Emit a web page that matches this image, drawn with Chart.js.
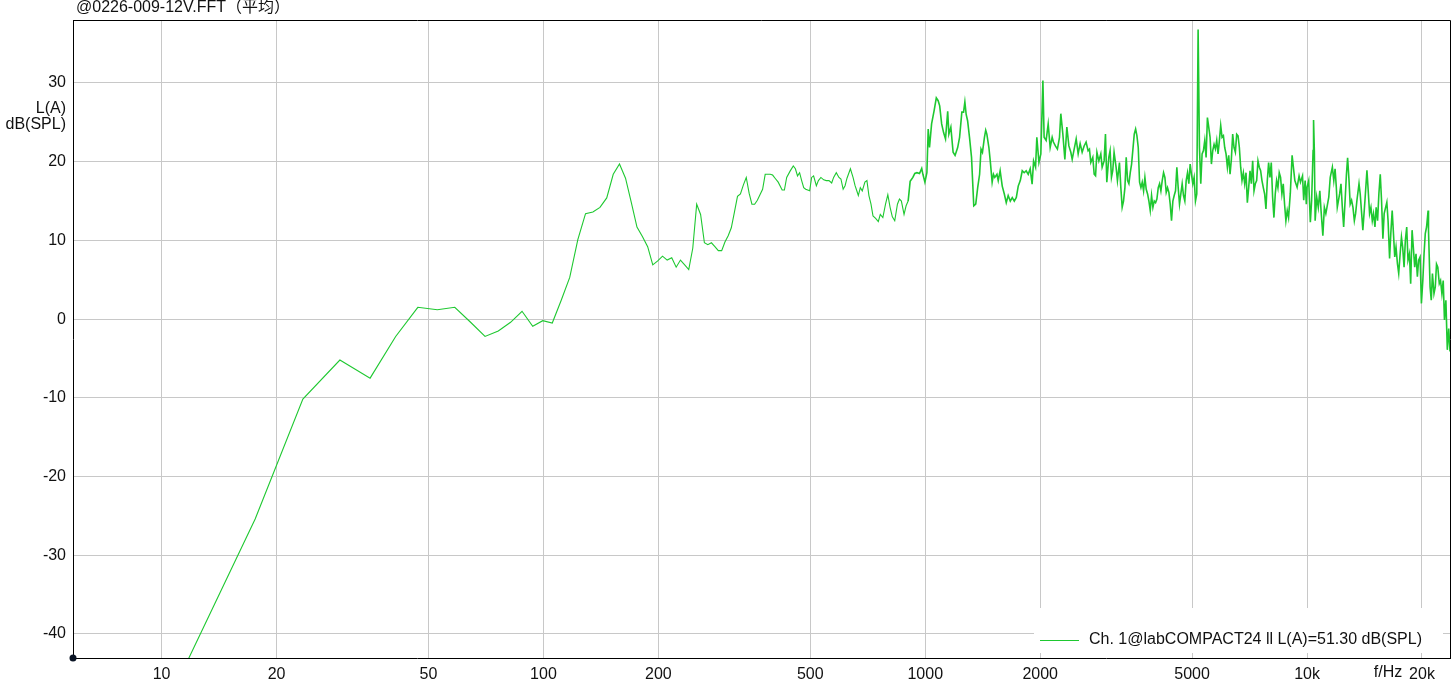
<!DOCTYPE html>
<html>
<head>
<meta charset="utf-8">
<script src="https://cdn.jsdelivr.net/npm/chart.js@4.4.1/dist/chart.umd.min.js"></script>
<style>
html,body{margin:0;padding:0;background:#fff;}
#wrap{width:1452px;height:692px;position:relative;}
</style>
</head>
<body>
<div id="wrap"><canvas id="c" width="1452" height="692"></canvas></div>
<script>
const titleText = "@0226-009-12V.FFT（平均）";
const legendText = "Ch. 1@labCOMPACT24 ll L(A)=51.30 dB(SPL)";
const yUnitLines = ["L(A)", "dB(SPL)"];
const xAxisName = "f/Hz";
const xTicks = [10, 20, 50, 100, 200, 500, 1000, 2000, 5000, 10000, 20000];
const xTickLabels = ["10", "20", "50", "100", "200", "500", "1000", "2000", "5000", "10k", "20k"];
const yTicks = [-40, -30, -20, -10, 0, 10, 20, 30];
const xMin = 5.86, xMax = 23680, yMin = -43.05, yMax = 38.0;

const freqs = [
5.86,11.72,17.58,23.44,29.30,35.16,41.02,46.88,52.73,58.59,64.45,70.31,76.17,82.03,87.89,93.75,99.61,105.47,111.33,117.19,
123.05,128.9,134.77,140.63,146.48,152.34,158.2,164.06,169.92,175.78,181.64,187.5,193.36,199.2,205.08,210.9,216.8,222.66,228.5,234.4,
240.2,246.1,252,258,264,269.5,275.4,281.25,287.1,293,298.8,304.7,310.5,316.4,322.3,328.1,334,339.8,345.7,351.6,
357.4,363.3,369.1,375,380.9,386.7,392.6,398.4,404.3,412,421.9,427.7,433.6,442.6,451.2,457,462.9,468.75,474.6,480.5,
486.3,492.2,498,504,510,518.6,525,533,542,550.6,559.6,568.8,575.5,584.8,594.3,601.4,609.5,616.6,623.8,636.8,
647,655,659.8,668,676,684,695,703.5,712,721,729.8,741.4,753.5,762.6,774.4,787,798,809,820,832,
845.6,856,866,880,891,902,913,928,939,951,966,979,986,998,1010,1018,1026,1039,1055,1069,
1081,1091,1104,1117,1130,1145,1153,1167,1183,1197,1216,1230,1247,1260,1270,1280,1291,1306,1322,1340,
1356,1372,1388,1400,1412,1429,1440,1450,1468,1480,1497,1509,1521,1541,1553,1571,1591,1611,1630,1649,
1670,1690,1711,1732,1752,1774,1795,1816,1838,1861,1883,1905,1922,1945,1960,1985,2008,2033,2048,2073,
2099,2124,2150,2166,2192,2219,2247,2265,2293,2321,2349,2378,2406,2426,2455,2485,2515,2545,2576,2607,
2638,2670,2692,2714,2747,2770,2793,2816,2849,2883,2906,2941,2965,2989,3025,3049,3074,3098,3123,3161,
3187,3226,3253,3279,3306,3334,3360,3388,3415,3443,3471,3499,3527,3556,3584,3613,3642,3672,3701,3731,
3761,3791,3822,3853,3884,3915,3947,3979,4011,4043,4076,4109,4142,4175,4209,4243,4277,4311,4346,4381,
4416,4452,4488,4524,4560,4597,4634,4671,4709,4747,4785,4824,4863,4902,4941,4981,5021,5061,5102,5143,
5184,5226,5268,5310,5353,5396,5440,5483,5527,5572,5617,5662,5708,5754,5800,5847,5894,5941,5989,6038,
6086,6135,6185,6234,6285,6335,6386,6438,6490,6542,6595,6648,6701,6755,6810,6865,6920,6976,7032,7089,
7146,7204,7262,7320,7379,7438,7498,7558,7619,7681,7743,7805,7868,7931,7995,8059,8124,8189,8255,8322,
8389,8456,8524,8593,8662,8732,8802,8873,8944,9040,9138,9290,9418,9530,9610,9730,9800,9885,9955,10000,
10100,10200,10280,10370,10400,10450,10500,10600,10700,10800,10880,11000,11100,11200,11400,11500,11650,11750,11840,11930,
12000,12170,12270,12370,12470,12580,12680,12770,12880,12970,13080,13190,13300,13400,13510,13680,13780,13900,14000,14180,
14350,14460,14580,14700,14820,14930,15060,15170,15300,15420,15550,15670,15800,15920,16060,16180,16300,16450,16570,16710,
16840,16970,17100,17250,17380,17530,17670,17800,17950,18090,18240,18380,18540,18680,18840,18980,19140,19290,19450,19600,
19770,19930,20100,20250,20400,20560,20750,20800,21000,21150,21300,21500,21670,21830,22000,22200,22370,22550,22730,22900,
23100,23300,23500,23680
];
const levels = [
-60,-43.3,-25.4,-10.15,-5.2,-7.5,-2.2,1.5,1.2,1.5,-0.4,-2.2,-1.5,-0.4,1.0,-0.9,-0.2,-0.5,2.4,5.3,
10.1,13.4,13.6,14.2,15.4,18.4,19.7,17.9,14.8,11.7,10.5,9.2,6.9,7.4,8.0,7.5,7.8,6.6,7.5,6.9,
6.3,9.0,14.6,13.3,9.7,9.45,9.7,9.2,8.7,8.7,9.8,10.6,11.6,13.6,15.6,15.9,17.05,18.0,16.0,14.6,
14.6,15.1,15.8,16.5,18.4,18.4,18.4,18.3,17.9,17.4,16.4,16.4,18.0,18.8,19.45,19.1,18.2,18.6,17.6,16.7,
16.5,16.4,16.3,18.0,18.2,16.95,17.6,18.0,17.7,17.6,17.6,17.3,18.0,18.6,18.0,17.8,16.5,16.95,17.9,19.1,
18.0,16.95,16.5,15.7,16.7,16.3,17.4,17.6,15.7,14.6,13.1,12.8,12.4,13.3,12.9,14.6,15.8,14.2,13.0,12.5,
14.6,15.25,15.0,13.3,14.4,15.0,17.5,18.0,18.5,18.6,18.5,19.15,18.4,17.4,18.6,24.15,21.8,24.8,26.5,28.1,
27.75,27.1,24.8,23.7,22.9,26.4,23.5,24.4,21.2,20.8,21.8,23.1,26.3,26.3,27.6,26.0,25.2,23.1,20.55,14.4,
14.6,16.7,18.4,21.6,21.2,23.1,24.0,23.5,21.8,20.1,17.4,18.4,18.0,18.4,17.6,18.85,16.9,15.9,14.8,15.7,
15.0,15.45,15.0,15.45,16.9,17.6,18.85,18.6,18.85,18.4,19.1,17.15,20.1,19.3,23.1,19.9,21.0,30.3,23.1,22.7,
24.8,21.8,23.1,22.5,22.0,21.6,23.1,26.1,23.5,20.3,24.4,22.0,21.2,20.3,21.6,22.9,21.0,22.3,21.2,22.0,
22.5,21.4,21.6,19.9,20.55,18.4,18.2,21.2,20.1,21.0,19.3,20.1,23.5,17.4,20.55,21.4,18.0,18.85,21.2,19.3,
17.6,19.9,16.7,14.2,15.0,16.7,20.55,17.6,17.2,18.6,19.7,21.6,23.5,24.15,23.3,21.8,17.4,16.7,17.4,16.3,
18.0,16.5,15.9,15.0,13.8,15.7,14.2,15.0,14.8,15.25,16.7,17.2,16.3,17.6,18.6,18.0,16.1,16.7,16.1,14.6,
12.5,15.0,15.7,16.3,19.3,16.7,14.6,15.9,17.2,15.7,15.0,17.6,18.6,17.2,19.7,18.4,17.2,18.0,15.0,15.9,
36.8,21.8,17.2,21.0,21.4,22.7,20.55,25.6,24.4,23.1,19.7,21.4,22.2,21.6,22.7,21.0,22.7,24.6,23.1,23.3,
21.8,21.0,19.3,20.8,18.4,20.3,23.5,21.8,21.2,23.5,23.3,21.8,19.3,17.6,18.6,17.2,18.6,14.8,16.7,18.85,
17.2,20.1,16.3,17.2,17.6,20.1,19.3,18.85,17.6,16.7,15.9,14.0,17.6,19.9,18.0,19.9,15.5,12.9,15.9,17.6,
16.7,18.6,18.0,15.9,17.2,14.6,12.5,13.8,12.9,16.0,20.8,17.6,16.75,18.2,17.4,18.2,15.1,17.6,14.6,16.75,
17.6,12.3,15.1,21.4,25.3,21.4,12.5,15.5,14.2,16.3,13.8,10.6,14.2,13.4,15.5,18.0,19.3,17.6,19.1,16.75,
14.2,15.9,17.2,14.2,11.7,15.1,18.4,20.5,17.6,14.6,15.1,14.2,12.5,13.4,15.1,17.2,15.9,13.4,11.3,15.1,
18.9,16.3,13.4,14.2,12.5,13.4,11.7,14.2,12.5,15.9,18.4,15.1,10.2,13.4,14.2,14.85,12.5,7.7,10.85,13.8,
10.85,7.9,9.15,7.0,5.8,8.3,10.4,9.15,6.6,10.0,11.7,7.5,8.3,4.5,11.3,9.15,6.6,8.3,5.4,7.5,
7.9,2.0,4.9,8.3,10.85,11.7,13.8,11.3,4.1,2.4,5.8,3.25,4.1,7.0,6.6,4.5,4.9,3.25,4.9,-0.1,
2.4,-3.9,-1.2,-4.1
];

const FONT = "'Liberation Sans', Arial, 'Noto Sans CJK SC', sans-serif";
const LINE_COLOR = "rgb(30,200,48)";

const points = freqs.map((f, i) => ({ x: f, y: levels[i] }));

const overlay = {
  id: 'overlay',
  afterDatasetsDraw(chart) {
    const ctx = chart.ctx, a = chart.chartArea;
    ctx.save();
    ctx.strokeStyle = '#000';
    ctx.lineWidth = 1;
    ctx.beginPath();
    ctx.moveTo(a.left, a.top + 0.5);
    ctx.lineTo(a.right + 0.5, a.top + 0.5);
    ctx.lineTo(a.right + 0.5, a.bottom);
    ctx.stroke();
    ctx.fillStyle = '#fff';
    ctx.fillRect(1034, 608, 409, 45);
    ctx.strokeStyle = LINE_COLOR;
    ctx.beginPath();
    ctx.moveTo(1040, 640.5);
    ctx.lineTo(1079, 640.5);
    ctx.stroke();
    ctx.fillStyle = '#111';
    ctx.font = "16px " + FONT;
    ctx.textBaseline = 'middle';
    ctx.textAlign = 'left';
    ctx.fillText(legendText, 1089, 640);
    ctx.fillText(titleText, 76, 8);
    ctx.textAlign = 'right';
    ctx.fillText(yUnitLines[0], 66, 109);
    ctx.fillText(yUnitLines[1], 66, 125);
    ctx.textAlign = 'center';
    ctx.fillText(xAxisName, 1388, 673);
    ctx.fillStyle = '#0a1424';
    ctx.beginPath();
    ctx.arc(a.left, a.bottom, 3.5, 0, Math.PI * 2);
    ctx.fill();
    ctx.restore();
  }
};

new Chart(document.getElementById('c'), {
  type: 'line',
  data: {
    datasets: [{
      data: points,
      borderColor: LINE_COLOR,
      borderWidth: 1.1,
      segment: {
        borderWidth: ctx => (ctx.p0.parsed.x > 900 ? 1.6 : 1.1)
      },
      pointRadius: 0,
      tension: 0,
      fill: false
    }]
  },
  options: {
    responsive: false,
    animation: false,
    devicePixelRatio: 1,
    layout: { padding: { top: 20, right: 2, left: 0, bottom: 0 } },
    plugins: { legend: { display: false }, tooltip: { enabled: false }, title: { display: false } },
    scales: {
      x: {
        type: 'logarithmic',
        min: xMin,
        max: xMax,
        afterBuildTicks(scale) { scale.ticks = xTicks.map(v => ({ value: v })); },
        afterFit(scale) { scale.height = 34; },
        grid: { color: '#c8c8c8', lineWidth: 1, drawTicks: false },
        border: { color: '#000', width: 1 },
        ticks: {
          autoSkip: false,
          maxRotation: 0,
          padding: 7,
          color: '#111',
          font: { family: FONT, size: 16 },
          callback(value) { const i = xTicks.indexOf(value); return i >= 0 ? xTickLabels[i] : ''; }
        }
      },
      y: {
        type: 'linear',
        min: yMin,
        max: yMax,
        afterBuildTicks(scale) { scale.ticks = yTicks.map(v => ({ value: v })); },
        afterFit(scale) { scale.width = 73; },
        grid: { color: '#c8c8c8', lineWidth: 1, drawTicks: false },
        border: { color: '#000', width: 1 },
        ticks: {
          padding: 7,
          color: '#111',
          font: { family: FONT, size: 16 },
          callback(value) { return String(value); }
        }
      }
    }
  },
  plugins: [overlay]
});
</script>
</body>
</html>
